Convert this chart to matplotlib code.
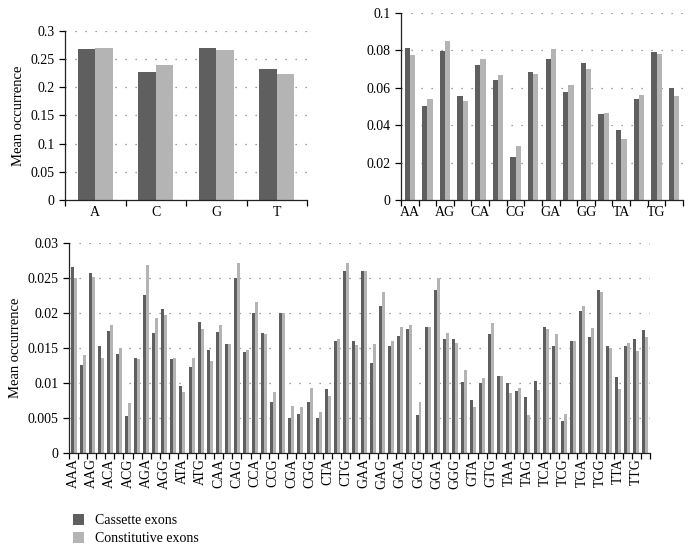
"""
Nucleotide, dinucleotide and trinucleotide occurrence in cassette vs constitutive exons
"""
from itertools import product

import numpy as np
from matplotlib import pyplot
from matplotlib.ticker import FixedLocator, FuncFormatter, MultipleLocator

BASES = ["A", "C", "G", "T"]

mono_labels = BASES
mono_cassette = [0.268, 0.227, 0.269, 0.233]
mono_constitutive = [0.270, 0.239, 0.267, 0.223]

di_labels = ["".join(p) for p in product(BASES, repeat=2)]
di_cassette = [0.0813, 0.0504, 0.0799, 0.0558, 0.0724, 0.0643, 0.0228, 0.0686,
               0.0752, 0.0578, 0.0731, 0.0460, 0.0373, 0.0542, 0.0793, 0.0601]
di_constitutive = [0.0777, 0.0542, 0.0848, 0.0531, 0.0756, 0.0670, 0.0289, 0.0672,
                   0.0809, 0.0617, 0.0702, 0.0467, 0.0324, 0.0561, 0.0781, 0.0558]

tri_labels = ["".join(p) for p in product(BASES, repeat=3)]
tri_cassette = [
    0.0266, 0.0126, 0.0257, 0.0153, 0.0174, 0.0141, 0.0053, 0.0135,
    0.0225, 0.0171, 0.0206, 0.0134, 0.0096, 0.0123, 0.0187, 0.0147,
    0.0172, 0.0156, 0.0249, 0.0144, 0.0199, 0.0171, 0.0072, 0.0200,
    0.0049, 0.0055, 0.0072, 0.0049, 0.0091, 0.0160, 0.0259, 0.0159,
    0.0260, 0.0128, 0.0210, 0.0153, 0.0167, 0.0177, 0.0054, 0.0180,
    0.0232, 0.0163, 0.0162, 0.0101, 0.0076, 0.0100, 0.0170, 0.0110,
    0.0100, 0.0088, 0.0080, 0.0103, 0.0180, 0.0152, 0.0046, 0.0160,
    0.0202, 0.0165, 0.0232, 0.0153, 0.0108, 0.0152, 0.0163, 0.0175,
]
tri_constitutive = [
    0.0249, 0.0139, 0.0251, 0.0135, 0.0183, 0.0150, 0.0071, 0.0134,
    0.0268, 0.0193, 0.0197, 0.0136, 0.0087, 0.0135, 0.0177, 0.0131,
    0.0182, 0.0155, 0.0271, 0.0147, 0.0215, 0.0169, 0.0087, 0.0199,
    0.0067, 0.0065, 0.0092, 0.0058, 0.0081, 0.0163, 0.0271, 0.0154,
    0.0260, 0.0155, 0.0230, 0.0160, 0.0180, 0.0182, 0.0072, 0.0180,
    0.0250, 0.0171, 0.0157, 0.0118, 0.0065, 0.0107, 0.0185, 0.0109,
    0.0085, 0.0093, 0.0054, 0.0090, 0.0177, 0.0169, 0.0056, 0.0159,
    0.0210, 0.0178, 0.0229, 0.0150, 0.0091, 0.0157, 0.0145, 0.0165,
]

DARK = "#5f5f5f"
LIGHT = "#b4b4b4"

pyplot.rcParams["font.family"] = ["Liberation Serif", "DejaVu Serif"]
pyplot.rcParams["font.size"] = 10


def draw_panel(ax, labels, cassette, constitutive, ymax, ystep, width,
               label_every=1, rotate=False, ylabel=None):
    """grouped bars with ticks on category boundaries"""
    n = len(labels)
    x = np.arange(n)
    ax.bar(x - width / 2, cassette, width, color=DARK, label="Cassette exons")
    ax.bar(x + width / 2, constitutive, width, color=LIGHT, label="Constitutive exons")

    ax.set_xlim(-0.5, n - 0.5)
    ax.set_ylim(0, ymax)
    ax.yaxis.set_major_locator(MultipleLocator(ystep))
    ax.yaxis.set_major_formatter(FuncFormatter(lambda v, _: f"{v:g}"))

    ax.xaxis.set_major_locator(FixedLocator(np.arange(-0.5, n, 1.0)))
    ax.xaxis.set_major_formatter(FuncFormatter(lambda v, _: ""))
    centers = x[::label_every]
    ax.xaxis.set_minor_locator(FixedLocator(centers))
    ax.set_xticklabels([labels[i] for i in centers], minor=True,
                       rotation=90 if rotate else 0)
    ax.tick_params(axis="x", which="major", length=4, width=0.9, direction="out")
    ax.tick_params(axis="x", which="minor", length=0, pad=4)
    ax.tick_params(axis="y", length=4, width=0.9, direction="out")

    ax.spines["top"].set_visible(False)
    ax.spines["right"].set_visible(False)
    for side in ("left", "bottom"):
        ax.spines[side].set_linewidth(0.9)
        ax.spines[side].set_color("#222222")

    ax.set_axisbelow(True)
    ax.grid(axis="y", linestyle=(0, (1, 7)), color="#808080", linewidth=0.9)
    if ylabel:
        ax.set_ylabel(ylabel, fontsize=10.5)


fig = pyplot.figure(figsize=(6.94, 5.5), dpi=100)

ax1 = fig.add_axes([0.0937, 0.6364, 0.3487, 0.3073])
draw_panel(ax1, mono_labels, mono_cassette, mono_constitutive, 0.3, 0.05, 0.29,
           ylabel="Mean occurrence")

ax2 = fig.add_axes([0.5778, 0.6364, 0.4063, 0.34])
draw_panel(ax2, di_labels, di_cassette, di_constitutive, 0.1, 0.02, 0.3,
           label_every=2)

ax3 = fig.add_axes([0.0994, 0.1769, 0.8372, 0.3818])
draw_panel(ax3, tri_labels, tri_cassette, tri_constitutive, 0.03, 0.005, 0.33,
           label_every=2, rotate=True, ylabel="Mean occurrence")

handles, names = ax3.get_legend_handles_labels()
fig.legend(handles, names, loc="upper left", bbox_to_anchor=(0.087, 0.088),
           frameon=False, handlelength=0.8, handleheight=0.8, handletextpad=0.8,
           labelspacing=0.35, fontsize=10)

fig.savefig("out.png", dpi=100)
pyplot.close(fig)
